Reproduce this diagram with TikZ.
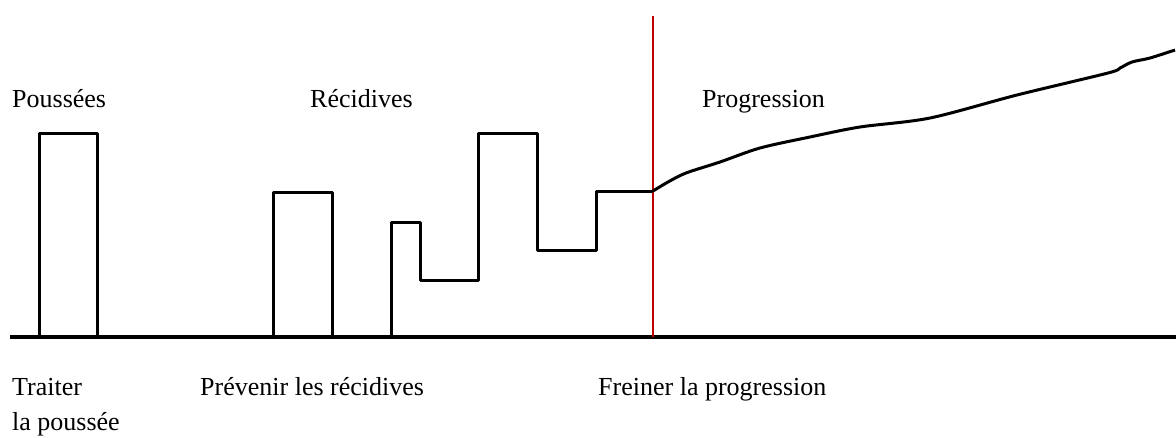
\documentclass[tikz,border=0pt]{standalone}
\usepackage{fontspec}
\setmainfont{Liberation Serif}
\usepackage{tikz}

\begin{document}
\begin{tikzpicture}[x=1pt,y=-1pt,
    lbl/.style={anchor=base west,inner sep=0pt,font=\fontsize{26}{35}\selectfont},
    pulse/.style={line width=3pt,line join=round}]
    \useasboundingbox (0,0) rectangle (1176,437);
    % axe du temps
    \coordinate (t0) at (10,337);
    \coordinate (t1) at (1176,337);
    \draw[line width=3.5pt] (t0) -- (t1);
    % separation
    \coordinate (s0) at (653,16);
    \coordinate (s1) at (653,337);
    \draw[line width=1.2pt,color=red!75!black] (s0) -- (s1);
    % poussees isolees
    \foreach \a/\b/\h in {39/97/133,273/332/192} {
      \draw[pulse] (\a,337) -- (\a,\h) -- (\b,\h) -- (\b,337);
    }
    % recidives
    \draw[pulse] (391,337) -- (391,222) -- (420,222) -- (420,280) -- (478,280)
      -- (478,133) -- (537,133) -- (537,250) -- (596,250) -- (596,191) -- (653,191);
    % progression
    \draw[pulse] plot[smooth,tension=0.5] coordinates {(653,191) (668,182) (686,173)
      (720,162) (760,148) (810,137) (860,127) (930,118) (1017,95) (1108,73)
      (1120,68) (1132,62) (1150,58) (1175,50)};
    % textes
    \node[lbl] (pous) at (12,107) {Poussées};
    \node[lbl] (reci) at (310,107) {Récidives};
    \node[lbl] (prog) at (702,107) {Progression};
    \node[lbl,align=left] (trai) at (12,430) {Traiter\\la poussée};
    \node[lbl] (prev) at (200,395) {Prévenir les récidives};
    \node[lbl] (frei) at (598,395) {Freiner la progression};
\end{tikzpicture}
\end{document}
